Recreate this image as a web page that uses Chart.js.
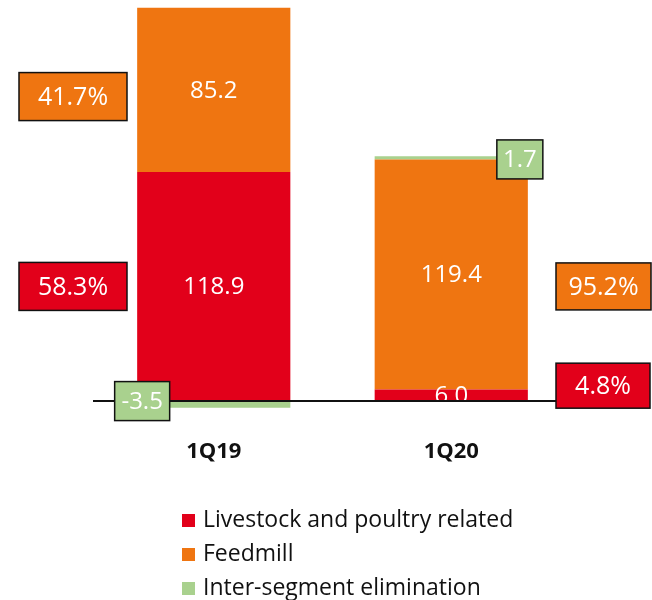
<!DOCTYPE html>
<html>
<head>
<meta charset="utf-8">
<script src="https://cdn.jsdelivr.net/npm/chart.js@4/dist/chart.umd.min.js"></script>
<style>
    body { margin: 0; background: #fff; }
    #wrap { position: relative; width: 652px; height: 600px; }
    #legend { position: absolute; left: 182px; top: 501px; font-family: 'Open Sans', sans-serif; font-size: 23px; color: #111; }
    #legend div { height: 34px; line-height: 34px; white-space: nowrap; }
    #legend span { display: inline-block; width: 13px; height: 13px; margin-right: 8px; vertical-align: 0px; }
</style>
</head>
<body>
<div id="wrap">
    <canvas id="chart" width="652" height="600"></canvas>
    <div id="legend"></div>
</div>
<script>
// Data
const quarters = ['1Q19', '1Q20'];
const livestock = [118.9, 6.0];
const feedmill = [85.2, 119.4];
const interSegment = [-3.5, 1.7];
const livestockShare = ['58.3%', '4.8%'];
const feedmillShare = ['41.7%', '95.2%'];

const RED = '#E2001A';
const ORANGE = '#EF7511';
const GREEN = '#A9D18E';
const FONT = "'Open Sans', sans-serif";

function box(ctx, cx, cy, w, h, fill, text, size) {
    ctx.fillStyle = fill;
    ctx.fillRect(cx - w / 2, cy - h / 2, w, h);
    ctx.strokeStyle = '#111';
    ctx.lineWidth = 1.5;
    ctx.strokeRect(cx - w / 2, cy - h / 2, w, h);
    ctx.fillStyle = '#fff';
    ctx.font = size + 'px ' + FONT;
    ctx.textAlign = 'center';
    ctx.textBaseline = 'middle';
    ctx.fillText(text, cx, cy + 1);
}

// Draws value labels, zero line, category labels and share boxes
const annotations = {
    id: 'annotations',
    afterDatasetsDraw(chart) {
        const ctx = chart.ctx;
        const x = chart.scales.x;
        const y = chart.scales.y;
        ctx.save();

        // white value labels on red / orange segments
        [0, 1].forEach(d => {
            chart.getDatasetMeta(d).data.forEach((bar, i) => {
                const c = (bar.y + bar.base) / 2;
                ctx.fillStyle = '#fff';
                ctx.font = '24px ' + FONT;
                ctx.textAlign = 'center';
                ctx.textBaseline = 'middle';
                ctx.fillText(chart.data.datasets[d].data[i].toFixed(1), bar.x, c + 1);
            });
        });

        // zero line
        const y0 = y.getPixelForValue(0);
        ctx.strokeStyle = '#111';
        ctx.lineWidth = 2;
        ctx.beginPath();
        ctx.moveTo(93, y0);
        ctx.lineTo(556, y0);
        ctx.stroke();

        // inter-segment boxes
        const g = chart.getDatasetMeta(2).data;
        box(ctx, g[0].x - g[0].width / 2 + 5, y0, 55, 39, GREEN, interSegment[0].toFixed(1), 24);
        box(ctx, g[1].x + g[1].width / 2 - 8, g[1].base, 46, 39, GREEN, interSegment[1].toFixed(1), 24);

        // category labels
        ctx.fillStyle = '#111';
        ctx.font = 'bold 22px ' + FONT;
        ctx.textAlign = 'center';
        ctx.textBaseline = 'middle';
        quarters.forEach((q, i) => ctx.fillText(q, x.getPixelForValue(i), 452));

        // share boxes
        box(ctx, 73, y.getPixelForValue(158), 108, 48, ORANGE, feedmillShare[0], 25);
        box(ctx, 73, y.getPixelForValue(59.5), 108, 48, RED, livestockShare[0], 25);
        box(ctx, 603.5, y.getPixelForValue(59.5), 95, 47, ORANGE, feedmillShare[1], 25);
        box(ctx, 603, y.getPixelForValue(8), 94, 45, RED, livestockShare[1], 25);

        ctx.restore();
    }
};

new Chart(document.getElementById('chart'), {
    type: 'bar',
    data: {
        labels: quarters,
        datasets: [
            { label: 'Livestock and poultry related', data: livestock, backgroundColor: RED },
            { label: 'Feedmill', data: feedmill, backgroundColor: ORANGE },
            { label: 'Inter-segment elimination', data: interSegment, backgroundColor: GREEN }
        ]
    },
    options: {
        responsive: false,
        animation: false,
        layout: { padding: { left: 95, right: 82, top: 6, bottom: 170 } },
        datasets: { bar: { barPercentage: 0.645, categoryPercentage: 1, borderWidth: 0 } },
        plugins: { legend: { display: false }, tooltip: { enabled: false } },
        scales: {
            x: { display: false, stacked: true },
            y: { display: false, stacked: true, min: -15, max: 205 }
        }
    },
    plugins: [annotations]
});

// HTML legend
const legend = document.getElementById('legend');
[[RED, 'Livestock and poultry related'], [ORANGE, 'Feedmill'], [GREEN, 'Inter-segment elimination']].forEach(([c, t]) => {
    const row = document.createElement('div');
    row.innerHTML = '<span style="background:' + c + '"></span>' + t;
    legend.appendChild(row);
});
</script>
</body>
</html>
